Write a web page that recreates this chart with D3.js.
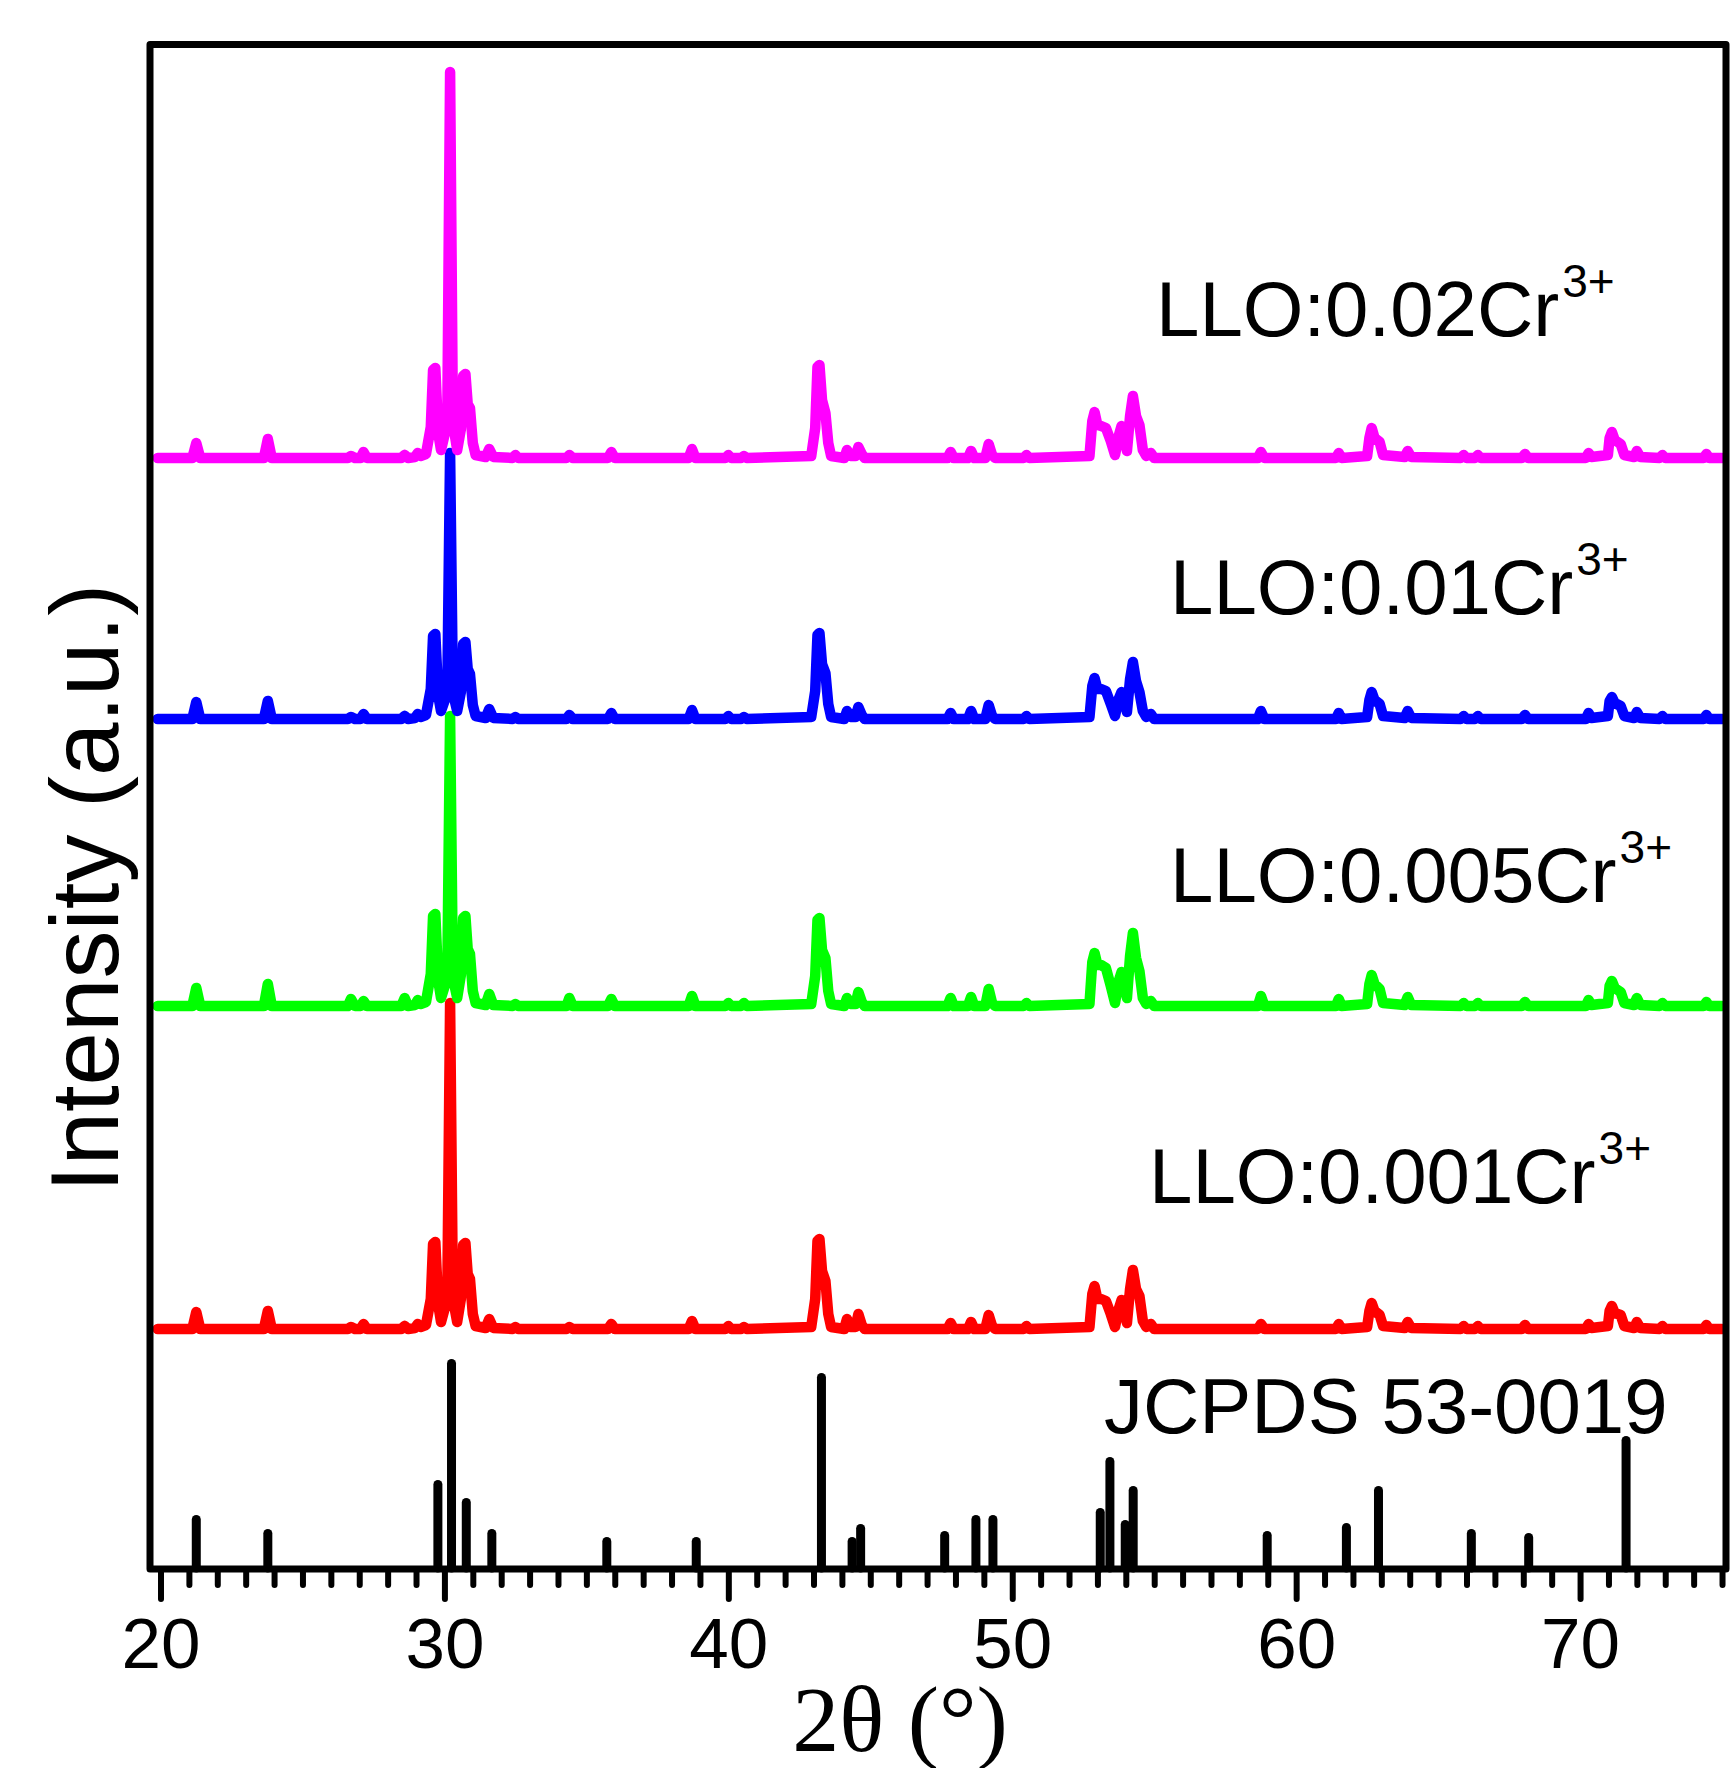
<!DOCTYPE html>
<html>
<head>
<meta charset="utf-8">
<script src="https://cdn.jsdelivr.net/npm/d3@7"></script>
<style>
  html, body { margin: 0; padding: 0; background: #fff; }
  svg { display: block; }
</style>
</head>
<body>
<svg id="chart" width="1730" height="1768"></svg>
<script>
// ---------------- DATA ----------------
// shared 2θ grid for the four measured patterns
const twoTheta = [
  19.9, 21.12, 21.26, 21.40, 23.64, 23.78, 23.92, 26.6, 26.71, 26.85,
  27.05, 27.15, 27.27, 28.48, 28.6, 28.72, 28.96, 29.06, 29.16,
  29.35, 29.52, 29.60, 29.68, 29.78, 29.88, 30.10, 30.20, 30.30, 30.45,
  30.58, 30.66, 30.74, 30.82, 30.90, 31.00, 31.10,
  31.45, 31.58, 31.72, 32.4, 32.5, 32.6, 34.3, 34.4, 34.52, 35.76, 35.88, 36.0,
  38.6, 38.72, 38.84, 39.9, 40.0, 40.1, 40.45, 40.55, 40.65,
  42.92, 43.06, 43.14, 43.21, 43.30, 43.42, 43.52, 43.62,
  44.08, 44.18, 44.3, 44.48, 44.58, 44.7, 44.8,
  47.72, 47.83, 47.94, 48.44, 48.55, 48.66, 49.05, 49.17, 49.29, 49.4, 50.4, 50.5, 50.6,
  52.72, 52.82, 52.9, 53.0, 53.13, 53.3, 53.47, 53.62, 53.75, 53.85, 53.95, 54.04,
  54.15, 54.25, 54.36, 54.48, 54.6, 54.72, 54.88, 55.0,
  58.65, 58.76, 58.88, 61.4, 61.5, 61.6,
  62.5, 62.58, 62.66, 62.76, 62.94, 63.06, 63.82, 63.93, 64.05,
  65.8, 65.9, 66.0, 66.3, 66.4, 66.5, 67.95, 68.06, 68.17,
  70.2, 70.3, 70.4, 70.98, 71.04, 71.12, 71.22, 71.43, 71.56, 71.9, 72.0, 72.12,
  72.8, 72.9, 73.0, 74.35, 74.45, 74.55, 75.0
];
// intensities above each pattern's own baseline (a.u.)
const red001 = [
  0, 0, 17, 0, 0, 18, 0, 0, 2, 0,
  0, 5, 0, 0, 3, 0, 1, 5, 2,
  4, 30, 85, 87, 25, 7, 30, 326, 30, 7,
  30, 84, 86, 55, 50, 15, 3,
  1, 10, 1, 0, 2, 0, 0, 2, 0, 0, 5, 0,
  0, 8, 0, 0, 3, 0, 0, 2, 0,
  2, 30, 88, 90, 58, 48, 15, 2,
  0, 10, 2, 2, 15, 4, 0,
  0, 6, 0, 0, 7, 0, 0, 14, 3, 0, 0, 3, 0,
  2, 35, 43, 30, 30, 28, 15, 2, 20, 29, 18, 6,
  40, 59, 40, 33, 8, 2, 5, 0,
  0, 5, 0, 0, 5, 0,
  2, 18, 26, 18, 14, 3, 1, 7, 1,
  0, 3, 0, 0, 3, 0, 0, 4, 0,
  0, 5, 1, 3, 18, 23, 16, 14, 3, 1, 7, 1,
  0, 3, 0, 0, 4, 0, 0
];
const green0005 = [
  0, 0, 18, 0, 0, 22, 0, 0, 7, 0,
  0, 5, 0, 0, 8, 0, 1, 6, 2,
  4, 32, 90, 92, 26, 8, 28, 290, 28, 8,
  31, 88, 90, 57, 52, 15, 3,
  1, 12, 1, 0, 2, 0, 0, 8, 0, 0, 7, 0,
  0, 10, 0, 0, 3, 0, 0, 3, 0,
  2, 30, 86, 88, 56, 48, 15, 2,
  0, 8, 2, 2, 14, 4, 0,
  0, 8, 0, 0, 9, 0, 0, 17, 3, 0, 0, 3, 0,
  2, 44, 53, 41, 41, 38, 20, 3, 25, 34, 20, 8,
  50, 73, 48, 35, 8, 2, 5, 0,
  0, 10, 0, 0, 7, 0,
  2, 22, 31, 22, 17, 3, 1, 9, 1,
  0, 3, 0, 0, 3, 0, 0, 4, 0,
  0, 6, 1, 3, 20, 25, 18, 14, 3, 1, 8, 1,
  0, 3, 0, 0, 4, 0, 0
];
const blue001 = [
  0, 0, 17, 0, 0, 18, 0, 0, 2, 0,
  0, 5, 0, 0, 3, 0, 1, 5, 2,
  4, 30, 83, 85, 24, 8, 26, 266, 26, 8,
  27, 75, 77, 50, 45, 14, 3,
  1, 10, 1, 0, 2, 0, 0, 4, 0, 0, 6, 0,
  0, 9, 0, 0, 3, 0, 0, 2, 0,
  2, 28, 84, 86, 55, 46, 15, 2,
  0, 8, 2, 2, 12, 4, 0,
  0, 6, 0, 0, 8, 0, 0, 14, 3, 0, 0, 3, 0,
  2, 33, 41, 30, 30, 28, 15, 3, 20, 27, 18, 7,
  40, 57, 38, 27, 8, 2, 5, 0,
  0, 8, 0, 0, 6, 0,
  2, 19, 27, 19, 15, 3, 1, 8, 1,
  0, 3, 0, 0, 3, 0, 0, 4, 0,
  0, 6, 1, 3, 18, 22, 16, 13, 3, 1, 7, 1,
  0, 3, 0, 0, 4, 0, 0
];
const magenta002 = [
  0, 0, 15, 0, 0, 19, 0, 0, 2, 0,
  0, 6, 0, 0, 3, 0, 1, 5, 2,
  4, 31, 88, 90, 25, 8, 35, 386, 35, 8,
  29, 82, 84, 54, 50, 15, 3,
  1, 9, 1, 0, 3, 0, 0, 3, 0, 0, 6, 0,
  0, 9, 0, 0, 3, 0, 0, 2, 0,
  2, 30, 91, 93, 58, 45, 15, 2,
  0, 8, 2, 2, 11, 4, 0,
  0, 6, 0, 0, 7, 0, 0, 14, 3, 0, 0, 3, 0,
  2, 37, 46, 33, 32, 30, 17, 3, 22, 32, 20, 7,
  42, 62, 42, 33, 8, 2, 5, 0,
  0, 6, 0, 0, 5, 0,
  2, 20, 30, 20, 16, 3, 1, 7, 1,
  0, 3, 0, 0, 3, 0, 0, 4, 0,
  0, 5, 1, 3, 20, 26, 18, 14, 3, 1, 7, 1,
  0, 3, 0, 0, 4, 0, 0
];
const seriesNames  = ["LLO:0.001Cr", "LLO:0.005Cr", "LLO:0.01Cr", "LLO:0.02Cr"];
const seriesValues = [red001, green0005, blue001, magenta002];
const seriesOffsets = [239, 562, 849, 1110];      // vertical stacking offsets (a.u.)
const seriesColors = ["#ff0000", "#00ff00", "#0000ff", "#ff00ff"];
const superscript = "3+";

// JCPDS 53-0019 reference lines
const refPositions = [21.26, 23.78, 29.77, 30.25, 30.77, 31.67, 35.72, 38.87, 43.28, 44.36,
  44.66, 47.62, 48.72, 49.32, 53.10, 53.44, 53.98, 54.26, 58.98, 61.77, 62.90, 66.17, 68.19, 71.62];
const refIntensities = [48.5, 34.5, 83.5, 204.5, 65.5, 34.5, 26.5, 26.5, 190.5, 26.5,
  39.5, 32.5, 48.5, 48.5, 55.5, 106.5, 43.5, 77.5, 32.5, 40.5, 77.5, 34.5, 30.5, 127.5];
const refName = "JCPDS 53-0019";

const majorTicks = [20, 30, 40, 50, 60, 70];
const minorTicks = d3.range(20, 76, 1).filter(v => v % 10 !== 0);
const xTitle = "2θ (°)";
const yTitle = "Intensity (a.u.)";

// ---------------- DRAW ----------------
(function () {
  const svg = d3.select("#chart");
  const pLeft = 150, pRight = 1726, pTop = 44.5, pBottom = 1569;
  const x = d3.scaleLinear().domain([19.63, 75.14]).range([pLeft, pRight]);
  const y = d3.scaleLinear().domain([0, 1525]).range([1568, 43]);
  const sans = "'Liberation Sans', Arial, Helvetica, sans-serif";
  const serif = "'Liberation Serif', 'Times New Roman', serif";

  // reference sticks
  svg.append("g").selectAll("line").data(refPositions).join("line")
    .attr("x1", d => x(d)).attr("x2", d => x(d))
    .attr("y1", y(0)).attr("y2", (d, i) => y(refIntensities[i]))
    .attr("stroke", "#000").attr("stroke-width", 9).attr("stroke-linecap", "round");

  // patterns
  const line = d3.line().x(d => x(d[0])).y(d => y(d[1]));
  seriesValues.forEach((vals, s) => {
    const pts = twoTheta.map((t, i) => [t, seriesOffsets[s] + vals[i]]);
    svg.append("path").datum(pts)
      .attr("d", line)
      .attr("fill", "none")
      .attr("stroke", seriesColors[s])
      .attr("stroke-width", 10.5)
      .attr("stroke-linejoin", "round")
      .attr("stroke-linecap", "round");
  });

  // frame
  svg.append("rect")
    .attr("x", pLeft).attr("y", pTop).attr("width", pRight - pLeft).attr("height", pBottom - pTop)
    .attr("fill", "none").attr("stroke", "#000").attr("stroke-width", 7)
    .attr("stroke-linejoin", "round");

  // x axis ticks
  const axisMinor = d3.axisBottom(x).tickValues(minorTicks).tickSize(16).tickFormat("");
  const axisMajor = d3.axisBottom(x).tickValues(majorTicks).tickSize(30).tickPadding(19).tickFormat(d3.format("d"));
  [axisMinor, axisMajor].forEach(ax => {
    const g = svg.append("g").attr("transform", `translate(0,${pBottom})`).call(ax);
    g.select(".domain").remove();
    g.selectAll(".tick line").attr("stroke", "#000").attr("stroke-width", 6).attr("stroke-linecap", "round");
    g.selectAll(".tick text").attr("fill", "#000").style("font-family", sans).style("font-size", "71px");
  });

  // axis titles
  svg.append("text")
    .attr("x", 900).attr("y", 1751)
    .attr("text-anchor", "middle")
    .style("font-family", serif).style("font-size", "94px").attr("fill", "#000")
    .text(xTitle);
  svg.append("text")
    .attr("transform", "translate(118,888) rotate(-90)")
    .attr("text-anchor", "middle")
    .style("font-family", sans).style("font-size", "96px").attr("fill", "#000")
    .text(yTitle);

  // series labels
  const labelPos = [[1149, 1203], [1170, 902], [1170, 614], [1156, 336]];
  seriesNames.forEach((name, i) => {
    const t = svg.append("text")
      .attr("x", labelPos[i][0]).attr("y", labelPos[i][1])
      .style("font-family", sans).style("font-size", "78px").attr("fill", "#000");
    t.append("tspan").text(name);
    t.append("tspan").attr("dx", 3).attr("dy", -39).style("font-size", "46px").text(superscript);
  });
  svg.append("text")
    .attr("x", 1104).attr("y", 1433)
    .style("font-family", sans).style("font-size", "78px").attr("fill", "#000")
    .text(refName);
})();
</script>
</body>
</html>
